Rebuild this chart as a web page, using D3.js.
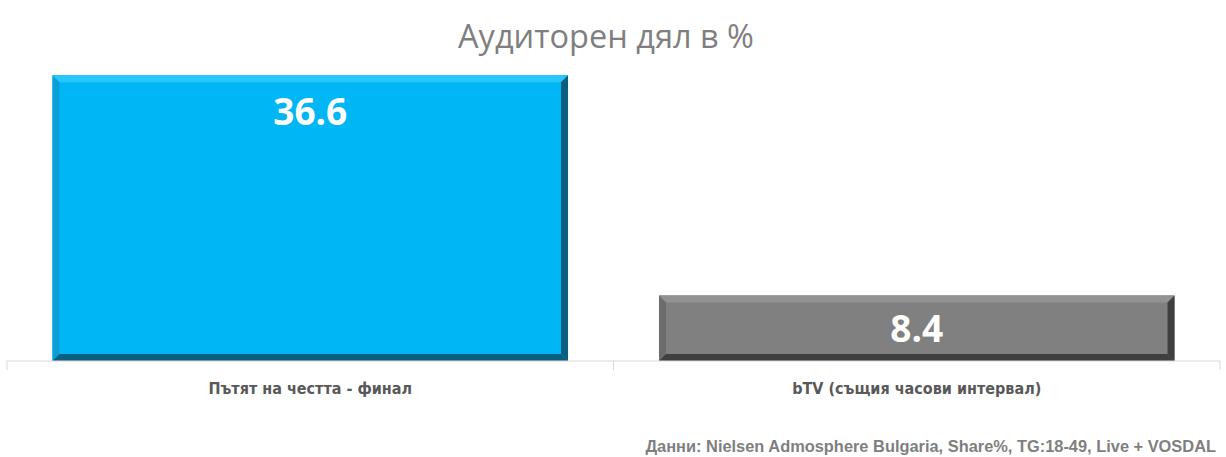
<!DOCTYPE html>
<html>
<head>
<meta charset="utf-8">
<script src="https://cdn.jsdelivr.net/npm/d3@7"></script>
<style>
  html, body { margin: 0; padding: 0; background: #fff; }
  svg { display: block; }
</style>
</head>
<body>
<svg id="chart" width="1226" height="457"></svg>
<script>
(function () {
  "use strict";

  var categories = ["Пътят на честта - финал", "bTV (същия часови интервал)"];
  var values = [36.6, 8.4];
  var fills = ["#00b6f5", "#808080"];
  var lights = ["#29c6fb", "#929292"];
  var darks = ["#0b5f7e", "#3f3f3f"];
  var sides = ["#0a9fd6", "#6c6c6c"];
  var title = "Аудиторен дял в %";
  var source = "Данни: Nielsen Admosphere Bulgaria, Share%, TG:18-49, Live + VOSDAL";

  var left = 7, right = 1220, baseline = 361;
  var svg = d3.select("#chart");

  var x = d3.scaleBand().domain(categories).range([left, right]).paddingInner(0.15).paddingOuter(0.075);
  var y = d3.scaleLinear().domain([0, 40]).range([baseline, baseline - 40 * 7.81]);

  svg.append("text")
    .attr("x", 606).attr("y", 48)
    .attr("text-anchor", "middle")
    .attr("font-family", "'Open Sans', sans-serif")
    .attr("font-size", 32.5)
    .attr("fill", "#7f7f7f")
    .text(title);

  var bev = 7;
  var bars = svg.selectAll("g.bar").data(values).join("g").attr("class", "bar");

  bars.each(function (v, i) {
    var g = d3.select(this);
    var x0 = x(categories[i]), x1 = x0 + x.bandwidth();
    var y0 = y(v), y1 = y(0);
    g.append("rect").attr("x", x0).attr("y", y0).attr("width", x1 - x0).attr("height", y1 - y0).attr("fill", fills[i]);
    // bevel edges
    g.append("polygon").attr("points", [[x0, y0], [x1, y0], [x1 - bev, y0 + bev], [x0 + bev, y0 + bev]].join(" ")).attr("fill", lights[i]);
    g.append("polygon").attr("points", [[x0, y0], [x0 + bev, y0 + bev], [x0 + bev, y1 - bev], [x0, y1]].join(" ")).attr("fill", sides[i]);
    g.append("polygon").attr("points", [[x1, y0], [x1, y1], [x1 - bev, y1 - bev], [x1 - bev, y0 + bev]].join(" ")).attr("fill", darks[i]);
    g.append("polygon").attr("points", [[x0, y1], [x1, y1], [x1 - bev, y1 - bev], [x0 + bev, y1 - bev]].join(" ")).attr("fill", darks[i]);
  });

  var axis = svg.append("g").attr("transform", "translate(0," + baseline + ")");
  axis.append("line").attr("x1", left).attr("x2", right).attr("stroke", "#d9d9d9");
  var ticks = [left].concat(categories.map(function (c) { return x(c) + x.bandwidth() + x.step() * x.paddingInner() / 2; }));
  ticks[ticks.length - 1] = right;
  axis.selectAll("line.tick").data(ticks).join("line").attr("class", "tick")
    .attr("x1", function (d) { return d; }).attr("x2", function (d) { return d; })
    .attr("y1", 0).attr("y2", 9).attr("stroke", "#d9d9d9");

  svg.selectAll("text.val").data(values).join("text").attr("class", "val")
    .attr("x", function (d, i) { return x(categories[i]) + x.bandwidth() / 2; })
    .attr("y", function (d) { var top = y(d); return Math.min(top + 50, top + (y(0) - top) / 2 + 14); })
    .attr("text-anchor", "middle")
    .attr("font-family", "'Open Sans', sans-serif")
    .attr("font-weight", "bold")
    .attr("font-size", 37)
    .attr("fill", "#fff")
    .text(function (d) { return d.toFixed(1); });

  svg.selectAll("text.cat").data(categories).join("text").attr("class", "cat")
    .attr("x", function (d) { return x(d) + x.bandwidth() / 2; })
    .attr("y", 394)
    .attr("text-anchor", "middle")
    .attr("font-family", "'Liberation Sans Narrow', 'DejaVu Sans Condensed', sans-serif")
    .attr("font-weight", "bold")
    .attr("font-size", 16)
    .attr("fill", "#595959")
    .text(function (d) { return d; });

  svg.append("text")
    .attr("x", 1216).attr("y", 452)
    .attr("text-anchor", "end")
    .attr("font-family", "'Liberation Sans', Arial, sans-serif")
    .attr("font-weight", "bold")
    .attr("font-size", 16.4)
    .attr("fill", "#7f7f7f")
    .text(source);
})();
</script>
</body>
</html>
